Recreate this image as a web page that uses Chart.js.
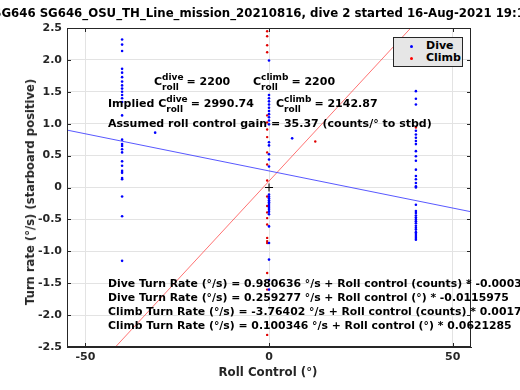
<!DOCTYPE html>
<html>
<head>
<meta charset="utf-8">
<title>Turn rate vs roll control</title>
<script src="https://cdn.jsdelivr.net/npm/chart.js"></script>
<style>
  body { margin: 0; overflow: hidden; background: #fff; }
  #wrap { position: relative; width: 520px; height: 390px; overflow: hidden; font-family: "DejaVu Sans", sans-serif; font-weight: bold; color: #000; }
  #grafico { position: absolute; left: 0; top: 0; }
  .t { position: absolute; white-space: nowrap; transform: translateY(-50%); font-size: 11px; line-height: 13px; }
  .ss { display: inline-block; vertical-align: middle; font-size: 9px; line-height: 9.5px; margin-right: 3px; }
  .ss span { display: block; }
  #titulo { position: absolute; top: 6px; left: 263px; transform: translateX(-50%); white-space: nowrap; font-size: 11.75px; }
  #ytit { position: absolute; left: 30px; top: 192px; transform: translate(-50%, -50%) rotate(-90deg); white-space: nowrap; font-size: 11.6px; color: #262626; }
  #xtit { position: absolute; left: 268px; top: 372px; transform: translate(-50%, -50%); white-space: nowrap; font-size: 11.8px; color: #262626; }
  #legenda { position: absolute; left: 393px; top: 37px; width: 68px; height: 28px; background: #e6e6e6; border: 1px solid #262626; font-size: 11px; line-height: 12px; }
  #legenda div { position: absolute; left: 32px; }
  #legenda i { position: absolute; left: -16px; top: 5px; width: 3px; height: 3px; border-radius: 2px; }
  .eq { font-size: 10.85px; }
</style>
</head>
<body>
<div id="wrap">
  <canvas id="grafico" width="520" height="390"></canvas>
  <div id="titulo">SG646 SG646_OSU_TH_Line_mission_20210816, dive 2 started 16-Aug-2021 19:14</div>
  <div id="ytit">Turn rate (°/s) (starboard positive)</div>
  <div id="xtit">Roll Control (°)</div>
  <div id="legenda">
    <div style="top:2px"><i style="background:#0000ff"></i>Dive</div>
    <div style="top:14px"><i style="background:#ff0000"></i>Climb</div>
  </div>
  <div class="t" style="left:154px; top:82px">C<span class="ss"><span>dive</span><span>roll</span></span>= 2200</div>
  <div class="t" style="left:253px; top:82px">C<span class="ss"><span>climb</span><span>roll</span></span>= 2200</div>
  <div class="t" style="left:108px; top:104px">Implied C<span class="ss"><span>dive</span><span>roll</span></span>= 2990.74</div>
  <div class="t" style="left:276px; top:104px">C<span class="ss"><span>climb</span><span>roll</span></span>= 2142.87</div>
  <div class="t" style="left:108px; top:123px">Assumed roll control gain = 35.37 (counts/° to stbd)</div>
  <div class="t eq" style="left:108px; top:283px">Dive Turn Rate (°/s) = 0.980636 °/s + Roll control (counts) * -0.000327</div>
  <div class="t eq" style="left:108px; top:297px">Dive Turn Rate (°/s) = 0.259277 °/s + Roll control (°) * -0.0115975</div>
  <div class="t eq" style="left:108px; top:311px">Climb Turn Rate (°/s) = -3.76402 °/s + Roll control (counts) * 0.00174</div>
  <div class="t eq" style="left:108px; top:325px">Climb Turn Rate (°/s) = 0.100346 °/s + Roll control (°) * 0.0621285</div>
</div>

<script>
  // eixos
  const xTicks = [-50, 0, 50];
  const yTicks = [-2.5, -2, -1.5, -1, -0.5, 0, 0.5, 1, 1.5, 2, 2.5];

  // pontos de mergulho (dive)
  const diveRollPort = -40;
  const diveRatesPort = [2.32, 2.24, 2.14, 1.86, 1.80, 1.73, 1.66, 1.60, 1.55, 1.50, 1.45, 1.40, 1.34, 1.13,
    0.75, 0.68, 0.65, 0.60, 0.55, 0.41, 0.34, 0.26, 0.23, 0.15, 0.13, -0.14, -0.45, -1.15];
  const diveRollCenter = 0;
  const diveRatesCenter = [1.99, 1.45, 1.40, 1.35, 1.30, 1.25, 1.20, 1.15, 1.10, 1.05, 0.99, 0.71, 0.66, 0.52,
    0.44, 0.33, -0.11, -0.14, -0.17, -0.20, -0.23, -0.26, -0.29, -0.32, -0.35, -0.38, -0.42, -0.61, -0.87,
    -1.13, -1.45, -1.60];
  const diveRollStbd = 40;
  const diveRatesStbd = [1.51, 1.39, 1.30, 0.89, 0.83, 0.78, 0.73, 0.68, 0.57, 0.49, 0.42, 0.28, 0.18, 0.13,
    0.07, 0.02, 0.0, -0.27, -0.37, -0.40, -0.44, -0.47, -0.50, -0.53, -0.56, -0.60, -0.63, -0.66, -0.70,
    -0.73, -0.76, -0.79, -0.82];
  const diveExtraRoll = [-31, 6.3];
  const diveExtraRate = [0.86, 0.77];

  // pontos de subida (climb)
  const climbRollCenter = -0.5;
  const climbRatesCenter = [2.45, 2.37, 2.23, 2.12, 1.13, 1.02, 0.91, 0.79, 0.55, 0.36, 0.11, -0.14, -0.29,
    -0.39, -0.48, -0.58, -0.79, -0.84, -0.87, -1.34, -1.60, -2.15, -2.31];
  const climbExtraRoll = [12.6, 40];
  const climbExtraRate = [0.72, 0.94];

  // retas ajustadas (extremos do eixo x)
  const fitRoll = [-55, 55];
  const diveFitRate = [0.90, -0.38];
  const climbFitRate = [-3.32, 3.52];

  function pontos(x, ys) { return ys.map(y => ({ x: x, y: y })); }
  function pares(xs, ys) { return xs.map((x, i) => ({ x: x, y: ys[i] })); }

  const divePts = [].concat(
    pontos(diveRollPort, diveRatesPort),
    pontos(diveRollCenter, diveRatesCenter),
    pontos(diveRollStbd, diveRatesStbd),
    pares(diveExtraRoll, diveExtraRate)
  );
  const climbPts = [].concat(
    pontos(climbRollCenter, climbRatesCenter),
    pares(climbExtraRoll, climbExtraRate)
  );

  // caixa + marcas internas estilo matlab
  const caixa = {
    id: 'caixa',
    afterDraw(chart) {
      const { ctx, chartArea: a, scales } = chart;
      ctx.save();
      ctx.strokeStyle = '#262626';
      ctx.lineWidth = 1;
      ctx.strokeRect(a.left + 0.5, a.top + 0.5, a.right - a.left - 1, a.bottom - a.top - 1);
      ctx.beginPath();
      xTicks.forEach(v => {
        const px = Math.round(scales.x.getPixelForValue(v)) + 0.5;
        ctx.moveTo(px, a.bottom); ctx.lineTo(px, a.bottom - 4);
        ctx.moveTo(px, a.top); ctx.lineTo(px, a.top + 4);
      });
      yTicks.forEach(v => {
        const py = Math.round(scales.y.getPixelForValue(v)) + 0.5;
        ctx.moveTo(a.left, py); ctx.lineTo(a.left + 4, py);
        ctx.moveTo(a.right, py); ctx.lineTo(a.right - 4, py);
      });
      ctx.stroke();
      ctx.restore();
    }
  };

  const tickFont = { family: 'DejaVu Sans', size: 11, weight: 'bold' };

  const ctx = document.getElementById('grafico').getContext('2d');
  const myChart = new Chart(ctx, {
    type: 'scatter',
    data: {
      datasets: [
        {
          label: 'Dive fit',
          type: 'line',
          data: pares(fitRoll, diveFitRate),
          borderColor: 'rgba(70, 70, 255, 0.9)',
          borderWidth: 1,
          pointRadius: 0,
          fill: false
        },
        {
          label: 'Climb fit',
          type: 'line',
          data: pares(fitRoll, climbFitRate),
          borderColor: 'rgba(255, 60, 60, 0.9)',
          borderWidth: 0.8,
          pointRadius: 0,
          fill: false
        },
        {
          label: 'Dive',
          data: divePts,
          backgroundColor: '#0000ff',
          borderWidth: 0,
          pointRadius: 1.3
        },
        {
          label: 'Climb',
          data: climbPts,
          backgroundColor: '#e00000',
          borderWidth: 0,
          pointRadius: 1.2
        },
        {
          label: 'origem',
          data: [{ x: 0, y: 0 }],
          pointStyle: 'cross',
          pointRadius: 4,
          borderColor: '#000',
          borderWidth: 1
        }
      ]
    },
    options: {
      responsive: false,
      animation: false,
      devicePixelRatio: 1,
      layout: { padding: { left: 0, top: 28, right: 49, bottom: 0 } },
      plugins: {
        legend: { display: false },
        tooltip: { enabled: false }
      },
      scales: {
        x: {
          type: 'linear',
          min: -55,
          max: 55,
          afterBuildTicks: s => { s.ticks = xTicks.map(v => ({ value: v })); },
          afterFit: s => { s.height = 43; },
          ticks: { font: tickFont, color: '#262626', padding: 4, maxRotation: 0 },
          grid: { color: '#e3e3e3', drawTicks: false },
          border: { color: '#262626' }
        },
        y: {
          type: 'linear',
          min: -2.5,
          max: 2.5,
          afterBuildTicks: s => { s.ticks = yTicks.map(v => ({ value: v })); },
          afterFit: s => { s.width = 67; },
          ticks: { font: tickFont, color: '#262626', padding: 5 },
          grid: { color: '#e3e3e3', drawTicks: false },
          border: { color: '#262626' }
        }
      }
    },
    plugins: [caixa]
  });
</script>
</body>
</html>
